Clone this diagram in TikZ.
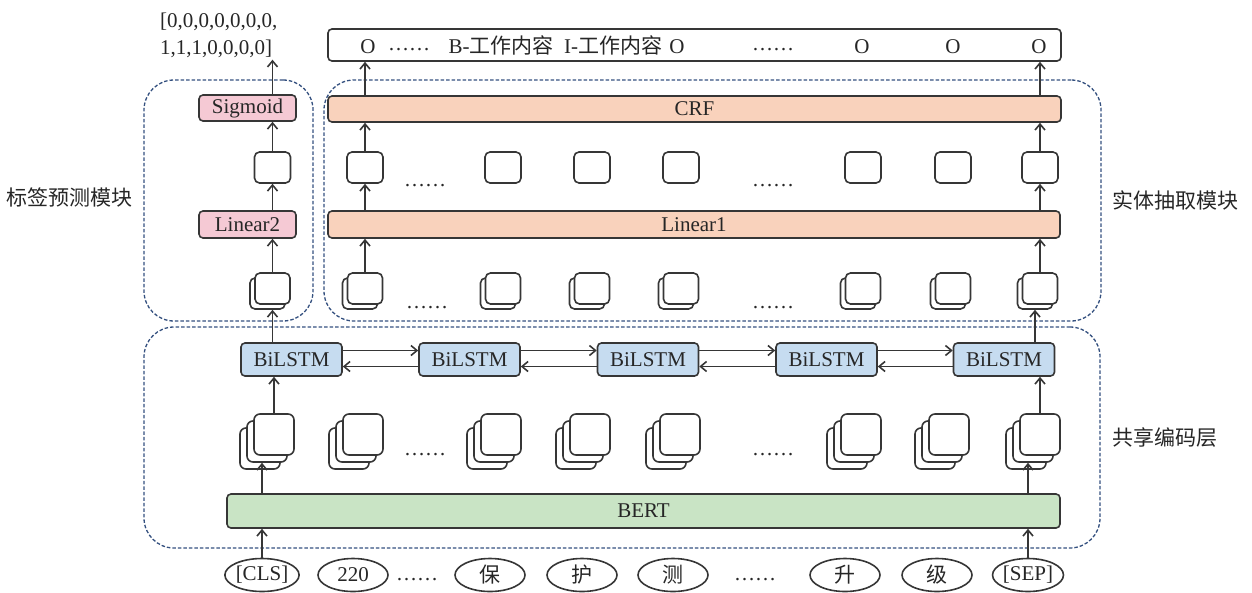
\documentclass[tikz,border=0pt]{standalone}
\usepackage{fontspec}
\setmainfont{Liberation Serif}
\newfontfamily\cjk{Noto Sans CJK SC}
\usetikzlibrary{arrows.meta,shapes.geometric}
\definecolor{edge}{HTML}{363636}
\definecolor{framecol}{HTML}{34507F}
\definecolor{pinkfill}{HTML}{F5C9D4}
\definecolor{peachfill}{HTML}{F9D2BC}
\definecolor{bluefill}{HTML}{C6DCF0}
\definecolor{greenfill}{HTML}{C9E4C5}
\tikzset{
  every node/.style={font=\fontsize{21}{27}\selectfont, text=black!85},
  box/.style={draw=edge, line width=1.6pt, rounded corners=4pt, inner sep=0pt},
  cell/.style={box, fill=white, minimum width=36pt, minimum height=31pt, rounded corners=5pt},
  paircell/.style={box, fill=white, minimum width=35pt, minimum height=31pt, rounded corners=5pt},
  stk/.style={box, fill=white, minimum width=40pt, minimum height=41pt, rounded corners=6pt},
  layer/.style={box, minimum height=27pt},
  lstm/.style={box, fill=bluefill, minimum width=101pt, minimum height=33pt},
  tok/.style={ellipse, draw=edge, line width=1.6pt, minimum width=70pt, minimum height=33pt, inner sep=0pt},
  modframe/.style={draw=framecol, line width=1.3pt, dash pattern=on 3.5pt off 2pt, rounded corners=30pt, inner sep=0pt},
  arr/.style={draw=edge, line width=1.6pt, -{Straight Barb[length=6pt,width=10pt,line width=1.6pt]}},
  dots/.style={anchor=base}
}
\begin{document}
\begin{tikzpicture}[x=1pt,y=-1pt]
\useasboundingbox (0,0) rectangle (1252,592);

% module frames and their labels
\node[modframe, minimum width=169pt, minimum height=241pt] (fl) at (228.5,200.5) {};
\node[modframe, minimum width=777pt, minimum height=241pt] (fe) at (712.5,200.5) {};
\node[modframe, minimum width=956pt, minimum height=221pt] (fs) at (622,437.5) {};
\node (lblL) at (69,197) {\cjk 标签预测模块};
\node (lblE) at (1175,200) {\cjk 实体抽取模块};
\node (lblS) at (1165,438) {\cjk 共享编码层};

% output sequence
\node[box, fill=white, minimum width=733pt, minimum height=32pt] (out) at (694.5,45) {};
\node[dots] (o1) at (368,53) {O};
\node[dots] (o2) at (409,50) {……};
\node[dots] (o3) at (501,53) {B-{\cjk 工作内容}};
\node[dots] (o4) at (613,53) {I-{\cjk 工作内容}};
\node[dots] (o5) at (677,53) {O};
\node[dots] (o6) at (773,50) {……};
\node[dots] (o7) at (862,53) {O};
\node[dots] (o8) at (953,53) {O};
\node[dots] (o9) at (1039,53) {O};
\node[anchor=north west, align=left, inner sep=2pt] (outl) at (158,10.5) {[0,0,0,0,0,0,0,\\1,1,1,0,0,0,0]};

% label prediction branch
\node[layer, fill=pinkfill, minimum width=97pt, minimum height=26pt] (sig) at (247.5,108) {Sigmoid};
\node[cell] (hl) at (272.5,167.5) {};
\node[layer, fill=pinkfill, minimum width=97pt] (lin2) at (247.5,224.5) {Linear2};
\node[paircell] (plb) at (267.5,293.5) {};
\node[paircell] (pla) at (272.5,288.5) {};

% entity extraction branch
\node[layer, fill=peachfill, minimum width=733pt, minimum height=26pt] (crf) at (694.5,109) {CRF};
\node[layer, fill=peachfill, minimum width=732pt] (lin1) at (694,224.5) {Linear1};
\foreach \i/\x in {1/365,2/503,3/592,4/681,5/863,6/953,7/1040}{
  \node[cell] (h\i) at (\x,167.5) {};
  \node[paircell] (pb\i) at (\x-5,293.5) {};
  \node[paircell] (pa\i) at (\x,288.5) {};
}
\node[dots] (d1) at (425,186) {……};
\node[dots] (d2) at (773,186) {……};
\node[dots] (d3) at (427,308) {……};
\node[dots] (d4) at (773,308) {……};

% shared encoder
\foreach \i/\x in {1/291.5,2/469.5,3/648,4/826.5,5/1004}{
  \node[lstm] (b\i) at (\x,359.5) {BiLSTM};
}
\foreach \i/\j in {1/2,2/3,3/4,4/5}{
  \draw[arr] ([yshift=9pt]b\i.east) -- ([yshift=9pt]b\j.west);
  \draw[arr] ([yshift=-7pt]b\j.west) -- ([yshift=-7pt]b\i.east);
}
\foreach \i/\x in {1/274,2/363,3/501,4/590,5/680,6/861,7/949,8/1040}{
  \node[stk] (sc\i) at (\x-14,448.5) {};
  \node[stk] (sb\i) at (\x-7,441.5) {};
  \node[stk] (sa\i) at (\x,434.5) {};
}
\node[dots] (d5) at (425,455) {……};
\node[dots] (d6) at (773,455) {……};
\node[layer, fill=greenfill, minimum width=833pt, minimum height=34pt] (bert) at (643.5,511) {BERT};

% input tokens
\node[tok] (t1) at (262,575) {[CLS]};
\node[tok] (t2) at (353,575) {220};
\node[dots] (d7) at (417,580) {……};
\node[tok] (t3) at (490,575) {\cjk 保};
\node[tok] (t4) at (582,575) {\cjk 护};
\node[tok] (t5) at (673,575) {\cjk 测};
\node[dots] (d8) at (755,580) {……};
\node[tok] (t6) at (845,575) {\cjk 升};
\node[tok] (t7) at (937,575) {\cjk 级};
\node[tok] (t8) at (1028,575) {[SEP]};

% data flow
\draw[arr] (t1.north) -- (t1 |- bert.south);
\draw[arr] (t8.north) -- (t8 |- bert.south);
\draw[arr] (bert.north -| t1) -- (t1 |- sb1.south);
\draw[arr] (bert.north -| t8) -- (t8 |- sb8.south);
\draw[arr] (sa1.north) -- (sa1 |- b1.south);
\draw[arr] (sa8.north) -- (sa8 |- b5.south);
\draw[arr] (b1.north -| pla) -- (pla |- plb.south);
\draw[arr] (b5.north -| pb7) -- (pb7.south);

\draw[arr] (pla.north) -- (pla |- lin2.south);
\draw[arr] (lin2.north -| hl) -- (hl.south);
\draw[arr] (hl.north) -- (hl |- sig.south);
\draw[arr] (sig.north -| hl) -- (hl |- outl.south);

\foreach \i in {1,7}{
  \draw[arr] (pa\i.north) -- (pa\i |- lin1.south);
  \draw[arr] (lin1.north -| h\i) -- (h\i.south);
  \draw[arr] (h\i.north) -- (h\i |- crf.south);
  \draw[arr] (crf.north -| h\i) -- (h\i |- out.south);
}
\end{tikzpicture}
\end{document}
